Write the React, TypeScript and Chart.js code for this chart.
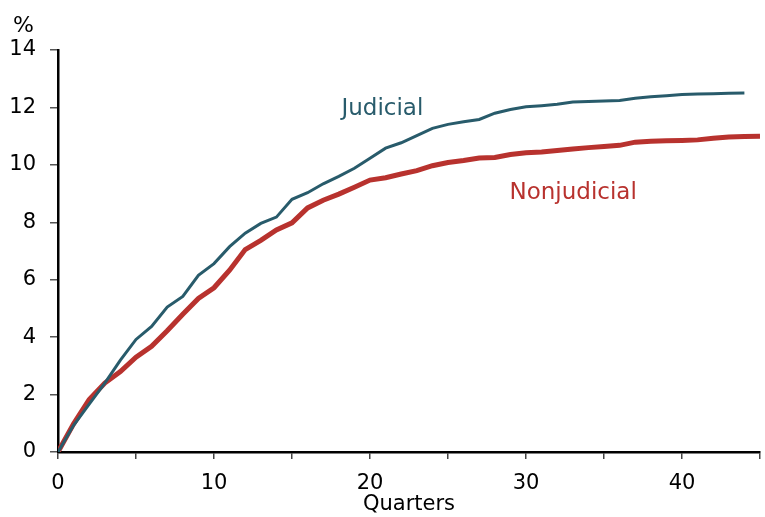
import React, { useEffect, useRef } from "react";
import { Chart, registerables } from "chart.js";

Chart.register(...registerables);

const quartersJudicial: number[] = Array.from({ length: 45 }, (_, i) => i);
const quartersNonjudicial: number[] = Array.from({ length: 46 }, (_, i) => i);

const judicial: number[] = [
  0, 0.93, 1.67, 2.4, 3.2, 3.92, 4.37, 5.05, 5.42, 6.15, 6.56, 7.15, 7.62, 7.96, 8.18,
  8.8, 9.03, 9.34, 9.6, 9.88, 10.23, 10.58, 10.77, 11.02, 11.27, 11.41, 11.5, 11.58, 11.8,
  11.93, 12.02, 12.06, 12.11, 12.19, 12.21, 12.22, 12.24, 12.32, 12.37, 12.41, 12.45,
  12.47, 12.48, 12.49, 12.5,
];

const nonjudicial: number[] = [
  0, 0.98, 1.83, 2.4, 2.8, 3.3, 3.68, 4.22, 4.8, 5.35, 5.72, 6.33, 7.05, 7.37, 7.73, 7.98,
  8.5, 8.77, 8.98, 9.22, 9.47, 9.55, 9.68, 9.8, 9.97, 10.08, 10.15, 10.24, 10.26, 10.36,
  10.42, 10.45, 10.5, 10.55, 10.6, 10.64, 10.68, 10.79, 10.82, 10.84, 10.85, 10.87, 10.93,
  10.97, 10.99, 11.0,
];

const xTickLabels: string[] = ["0", "10", "20", "30", "40"];

const JUD_COLOR = "#285b6b";
const NON_COLOR = "#b8322e";
const FONT = "'DejaVu Sans', Verdana, sans-serif";

const labelsPlugin = {
  id: "seriesLabels",
  afterDraw(chart: any) {
    const { ctx, scales } = chart;
    const x = scales.x;
    const y = scales.y;
    ctx.save();
    ctx.font = `23px ${FONT}`;
    ctx.textAlign = "left";
    ctx.textBaseline = "alphabetic";
    ctx.fillStyle = JUD_COLOR;
    ctx.fillText("Judicial", x.getPixelForValue(18.17), y.getPixelForValue(11.73));
    ctx.fillStyle = NON_COLOR;
    ctx.fillText("Nonjudicial", x.getPixelForValue(28.94), y.getPixelForValue(8.8));
    ctx.fillStyle = "#000";
    ctx.font = `22px ${FONT}`;
    ctx.fillText("%", 13, 32);
    ctx.restore();
  },
};

export default function App() {
  const ref = useRef<HTMLCanvasElement | null>(null);

  useEffect(() => {
    if (!ref.current) return;
    const chart = new Chart(ref.current, {
      type: "line",
      data: {
        datasets: [
          {
            label: "Judicial",
            data: quartersJudicial.map((q, i) => ({ x: q, y: judicial[i] })),
            borderColor: JUD_COLOR,
            borderWidth: 3,
            pointRadius: 0,
            tension: 0,
          },
          {
            label: "Nonjudicial",
            data: quartersNonjudicial.map((q, i) => ({ x: q, y: nonjudicial[i] })),
            borderColor: NON_COLOR,
            borderWidth: 5,
            pointRadius: 0,
            tension: 0,
          },
        ],
      },
      options: {
        animation: false,
        responsive: false,
        devicePixelRatio: 1,
        layout: { padding: { top: 50, right: 5, left: 0, bottom: 0 } },
        plugins: {
          legend: { display: false },
          tooltip: { enabled: false },
        },
        scales: {
          x: {
            type: "linear",
            min: 0,
            max: 45,
            afterFit: (s: any) => {
              s.height = 65;
              s.paddingRight = 0;
            },
            border: { display: true, color: "#000", width: 2.5 },
            grid: {
              drawOnChartArea: false,
              drawTicks: true,
              tickLength: 7,
              color: "#444",
              lineWidth: 1.5,
            },
            ticks: {
              stepSize: 5,
              autoSkip: false,
              maxRotation: 0,
              padding: 12,
              color: "#000",
              font: { family: FONT, size: 21 },
              callback: (v: any) => {
                const s = String(v);
                return xTickLabels.includes(s) ? s : "";
              },
            },
            title: {
              display: true,
              text: "Quarters",
              color: "#000",
              font: { family: FONT, size: 21 },
              padding: { top: 2, bottom: 0 },
            },
          },
          y: {
            min: 0,
            max: 14,
            afterFit: (s: any) => {
              s.width = 58;
            },
            border: { display: true, color: "#000", width: 2.5 },
            grid: {
              drawOnChartArea: false,
              drawTicks: true,
              tickLength: 8,
              color: "#555",
              lineWidth: 1.5,
            },
            ticks: {
              stepSize: 2,
              padding: 14,
              color: "#000",
              font: { family: FONT, size: 21 },
            },
          },
        },
      },
      plugins: [labelsPlugin],
    });
    return () => chart.destroy();
  }, []);

  return (
    <div style={{ position: "fixed", left: 0, top: 0, width: 765, height: 517, background: "#fff" }}>
      <canvas ref={ref} width={765} height={517} />
    </div>
  );
}
